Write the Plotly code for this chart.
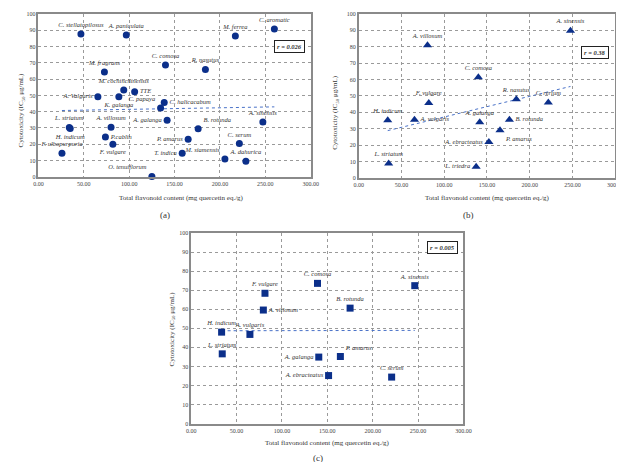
import numpy as np
import plotly.graph_objects as go

# ---------------- DATA ----------------
# Panel (a): circles
a_names = ["C. stellatopilosus", "A. paniculata", "M. ferrea", "C. aromatic", "C. comosa",
           "R. nasutus", "M. fragrans", "M. cochinchinensis", "TTE", "A. Valgaris",
           "K. galanga", "C. halicacabum", "C. papaya", "A. galanga", "A. sinensis",
           "L. striatum", "H. indicum", "A. villosum", "B. rotunda", "P.cablin",
           "P. amarus", "C. serum", "F. vulgare", "F. ulbopurpuria", "T. indica",
           "M. siamensis", "A. dahurica", "O. tenuiflorum"]
a_x = [46.8, 96.8, 217.0, 260.0, 140.0,
       184.0, 72.7, 94.0, 106.0, 65.5,
       88.6, 138.6, 134.6, 141.8, 247.3,
       34.0, 35.0, 80.0, 176.0, 73.8,
       165.0, 221.4, 82.0, 25.9, 158.4,
       205.5, 228.6, 125.0]
a_y = [87.7, 87.1, 86.5, 90.7, 68.7,
       65.9, 64.4, 53.3, 52.3, 49.1,
       49.1, 45.6, 42.2, 34.7, 33.7,
       30.3, 29.6, 30.5, 29.5, 24.4,
       23.0, 20.4, 20.0, 14.4, 14.4,
       10.9, 9.5, 0.2]
a_r = "r = 0.026"

# Panel (b): triangles
b_names = ["A. sinensis", "A. villosum", "C. comosa", "F. vulgare", "R. nasutus",
           "C. rerium", "H. indicum", "A. valgaris", "A. galanga", "B. rotunda",
           "P. amarus", "A. ebracteatus", "L. striatum", "L. triedra"]
b_x = [247.7, 80.5, 140.0, 82.0, 184.4,
       221.8, 34.0, 65.3, 141.6, 176.3,
       165.3, 152.3, 35.1, 137.4]
b_y = [89.8, 80.9, 61.3, 45.6, 48.0,
       46.0, 35.1, 35.5, 33.9, 35.5,
       29.1, 21.9, 8.8, 6.8]
b_r = "r = 0.38"

# Panel (c): squares
c_names = ["F. vulgare", "A. villosum", "H. indicum", "A. vulgaris", "L. striatum",
           "C. comosa", "A. sinensis", "B. rotunda", "A. galanga", "P. amarus",
           "A. ebracteatus", "C. serum"]
c_x = [81.3, 79.5, 33.5, 64.7, 34.2,
       139.2, 246.4, 175.1, 140.6, 164.4,
       151.4, 220.9]
c_y = [68.4, 59.6, 48.0, 46.8, 36.6,
       73.6, 72.4, 60.6, 34.9, 35.2,
       25.2, 24.4]
c_r = "r = 0.005"

x_ticks = [0, 50, 100, 150, 200, 250, 300]
y_ticks = [0, 10, 20, 30, 40, 50, 60, 70, 80, 90, 100]
x_title = "Total flavonoid content (mg quercetin eq./g)"
y_title = "Cytotoxicity (IC<sub>50</sub> μg/mL)"
panel_labels = ["(a)", "(b)", "(c)"]

# ---------------- STYLE ----------------
a_pos = {"TTE": "middle right", "A. Valgaris": "middle left", "K. galanga": "bottom center",
         "C. halicacabum": "middle right", "C. papaya": "top left", "A. galanga": "middle left",
         "H. indicum": "bottom center", "B. rotunda": "top right", "P.cablin": "middle right",
         "P. amarus": "middle left", "F. vulgare": "bottom center", "T. indica": "middle left",
         "M. siamensis": "top left", "O. tenuiflorum": "top left"}
b_pos = {"A. valgaris": "middle right", "B. rotunda": "middle right", "P. amarus": "bottom right",
         "A. ebracteatus": "middle left", "L. triedra": "middle left"}
c_pos = {"A. villosum": "middle right", "A. galanga": "middle left", "P. amarus": "top right",
         "A. ebracteatus": "middle left"}

FONT = "Liberation Serif"
MARK = "#0b2f8a"
W, H = 624, 462

def px_dom_x(l, r):
    return [l / W, r / W]

def px_dom_y(bottom, top):
    return [1 - bottom / H, 1 - top / H]

fig = go.Figure()

panels = [
    (a_names, a_x, a_y, a_pos, "circle", 7, "x", "y"),
    (b_names, b_x, b_y, b_pos, "triangle-up", 8, "x2", "y2"),
    (c_names, c_x, c_y, c_pos, "square", 7, "x3", "y3"),
]

for names, xs, ys, pos, sym, size, xa, ya in panels:
    xs_arr = np.array(xs)
    ys_arr = np.array(ys)
    slope, icpt = np.polyfit(xs_arr, ys_arr, 1)
    lx = np.array([xs_arr.min(), xs_arr.max()])
    fig.add_trace(go.Scatter(x=lx, y=slope * lx + icpt, mode="lines", xaxis=xa, yaxis=ya,
                             line=dict(color="#4a72c8", width=1, dash="dot"),
                             showlegend=False, hoverinfo="skip"))
    fig.add_trace(go.Scatter(
        x=xs, y=ys, mode="markers+text", xaxis=xa, yaxis=ya,
        text=names, textposition=[pos.get(n, "top center") for n in names],
        textfont=dict(family=FONT, size=6.5, color="#333333", style="italic"),
        marker=dict(symbol=sym, size=size, color=MARK),
        showlegend=False, cliponaxis=False))

axis_common = dict(range=[0, 300], tickvals=x_ticks, tickformat=".2f",
                   showgrid=True, gridcolor="#9a9a9a", griddash="dot", gridwidth=1,
                   showline=True, mirror=True, linecolor="#8a8a8a", linewidth=1.5,
                   zeroline=False, ticks="", ticklen=0,
                   tickfont=dict(family=FONT, size=6, color="#444444"))
yaxis_common = dict(range=[0, 100], tickvals=y_ticks,
                    showgrid=True, gridcolor="#9a9a9a", griddash="dot", gridwidth=1,
                    showline=True, mirror=True, linecolor="#8a8a8a", linewidth=1.5,
                    zeroline=False, ticks="", ticklen=0,
                    tickfont=dict(family=FONT, size=6, color="#444444"))

fig.update_layout(
    width=W, height=H, autosize=False,
    margin=dict(l=0, r=0, t=0, b=0),
    paper_bgcolor="white", plot_bgcolor="white",
    xaxis=dict(domain=px_dom_x(26, 304), anchor="y", **axis_common),
    yaxis=dict(domain=px_dom_y(168, 3), anchor="x", **yaxis_common),
    xaxis2=dict(domain=px_dom_x(353, 615), anchor="y2", **axis_common),
    yaxis2=dict(domain=px_dom_y(169, 3), anchor="x2", **yaxis_common),
    xaxis3=dict(domain=px_dom_x(182, 460), anchor="y3", **axis_common),
    yaxis3=dict(domain=px_dom_y(418, 225), anchor="x3", **yaxis_common),
)

def ann(text, xp, yp, size, angle=0, italic=False, border=False):
    kw = dict(
        text=text, x=xp / W, y=1 - yp / H, xref="paper", yref="paper",
        showarrow=False, textangle=angle, xanchor="center", yanchor="middle",
        font=dict(family=FONT, size=size, color="#333333", style="italic" if italic else "normal"))
    if border:
        kw.update(bordercolor="#222222", borderwidth=1, borderpad=2, bgcolor="white")
    fig.add_annotation(**kw)

# axis titles
ann(x_title, 172, 189, 7)
ann(x_title, 485, 189, 7)
ann(x_title, 321, 438, 7)
ann(y_title, 8, 100, 7, angle=-90)
ann(y_title, 329, 103, 7, angle=-90)
ann(y_title, 162, 322, 7, angle=-90)

# correlation boxes
ann("<b>" + a_r + "</b>", 282, 36, 6.5, italic=True, border=True)
ann("<b>" + b_r + "</b>", 594, 42, 6.5, italic=True, border=True)
ann("<b>" + c_r + "</b>", 439, 240, 6.5, italic=True, border=True)

# panel labels
ann(panel_labels[0], 155, 207, 9)
ann(panel_labels[1], 465, 207, 9)
ann(panel_labels[2], 311, 453, 9)

fig.write_html("out.html")
